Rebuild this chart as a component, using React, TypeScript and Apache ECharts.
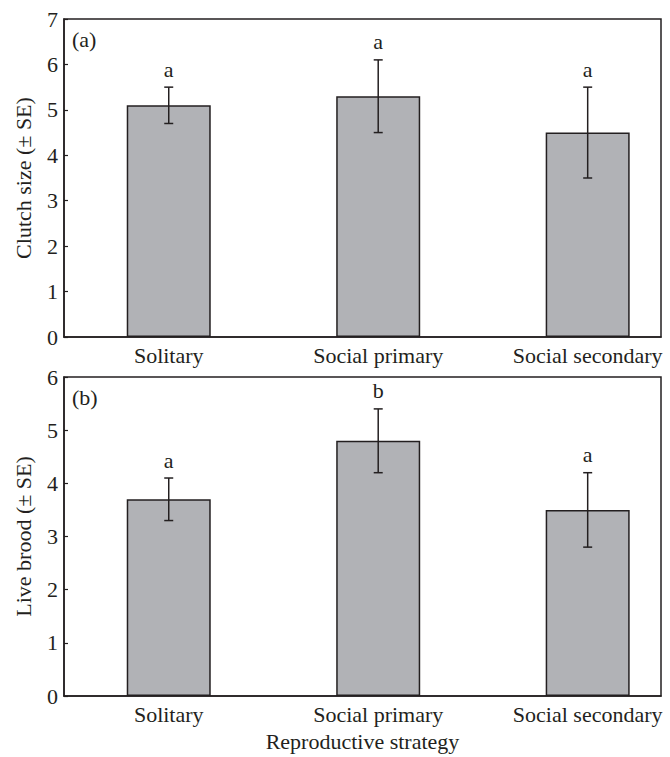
import React, { useEffect, useRef } from "react";
import * as echarts from "echarts";

const categories = ["Solitary", "Social primary", "Social secondary"];
const clutchMean = [5.1, 5.3, 4.5];
const clutchSE = [0.4, 0.8, 1.0];
const clutchLetters = ["a", "a", "a"];
const broodMean = [3.7, 4.8, 3.5];
const broodSE = [0.4, 0.6, 0.7];
const broodLetters = ["a", "b", "a"];
const clutchTicks = { min: 0, max: 7, interval: 1 };
const broodTicks = { min: 0, max: 6, interval: 1 };

const FONT = "'Liberation Serif', 'DejaVu Serif', serif";
const INK = "#231f20";
const FS = 22;

function categoriesLetter(seriesIndex: number, i: number) {
  return seriesIndex === 1 ? clutchLetters[i] : broodLetters[i];
}

function errRender(params: any, api: any) {
  const x = api.value(0);
  const m = api.value(1);
  const se = api.value(2);
  const letter = categoriesLetter(params.seriesIndex, params.dataIndex);
  const hi = api.coord([x, m + se]);
  const lo = api.coord([x, m - se]);
  const cap = 4.5;
  const st = { stroke: INK, lineWidth: 1.5 };
  return {
    type: "group",
    children: [
      { type: "line", shape: { x1: hi[0], y1: hi[1], x2: lo[0], y2: lo[1] }, style: st },
      { type: "line", shape: { x1: hi[0] - cap, y1: hi[1], x2: hi[0] + cap, y2: hi[1] }, style: st },
      { type: "line", shape: { x1: lo[0] - cap, y1: lo[1], x2: lo[0] + cap, y2: lo[1] }, style: st },
      {
        type: "text",
        style: {
          text: letter,
          x: hi[0],
          y: hi[1] - 7,
          align: "center",
          verticalAlign: "bottom",
          fontSize: FS,
          fontFamily: FONT,
          fill: INK,
        },
      },
    ],
  };
}

export default function App() {
  const ref = useRef<HTMLDivElement>(null);
  useEffect(() => {
    if (!ref.current) return;
    const chart = echarts.init(ref.current, undefined, { renderer: "svg" });
    const xPos = categories.map((_, i) => i + 1);
    const mkX = (gridIndex: number, withName: boolean) => ({
      type: "value",
      gridIndex,
      min: 0.5,
      max: 3.35,
      splitLine: { show: false },
      axisTick: { show: false },
      axisLine: { show: true, lineStyle: { color: INK, width: 1.5 } },
      axisLabel: {
        customValues: xPos,
        formatter: (v: number) => categories[Math.round(v) - 1] ?? "",
        fontSize: FS,
        fontFamily: FONT,
        color: INK,
        margin: 7,
      },
      name: withName ? "Reproductive strategy" : "",
      nameLocation: "middle",
      nameGap: 34,
      nameTextStyle: { fontSize: FS, fontFamily: FONT, color: INK },
    });
    const mkY = (gridIndex: number, ticks: any, name: string) => ({
      type: "value",
      gridIndex,
      min: ticks.min,
      max: ticks.max,
      interval: ticks.interval,
      splitLine: { show: false },
      axisTick: { show: true, inside: true, length: 4, lineStyle: { color: INK, width: 1.2 } },
      axisLine: { show: true, lineStyle: { color: INK, width: 1.5 } },
      axisLabel: { fontSize: FS, fontFamily: FONT, color: INK, margin: 6 },
      name,
      nameLocation: "middle",
      nameGap: 30,
      nameTextStyle: { fontSize: FS, fontFamily: FONT, color: INK },
    });
    const barStyle = { color: "#b1b2b6", borderColor: INK, borderWidth: 1.5 };
    chart.setOption({
      animation: false,
      grid: [
        { left: 64, top: 19, width: 597, height: 318, show: true, borderColor: INK, borderWidth: 1.5, backgroundColor: "transparent" },
        { left: 64, top: 377, width: 597, height: 319, show: true, borderColor: INK, borderWidth: 1.5, backgroundColor: "transparent" },
      ],
      xAxis: [mkX(0, false), mkX(1, true)],
      yAxis: [mkY(0, clutchTicks, "Clutch size (± SE)"), mkY(1, broodTicks, "Live brood (± SE)")],
      graphic: [
        { type: "text", left: 72, top: 28, style: { text: "(a)", fontSize: FS, fontFamily: FONT, fill: INK } },
        { type: "text", left: 72, top: 386, style: { text: "(b)", fontSize: FS, fontFamily: FONT, fill: INK } },
      ],
      series: [
        {
          type: "bar",
          xAxisIndex: 0,
          yAxisIndex: 0,
          barWidth: 84,
          itemStyle: barStyle,
          data: clutchMean.map((m, i) => [xPos[i], m]),
        },
        {
          type: "custom",
          xAxisIndex: 0,
          yAxisIndex: 0,
          renderItem: errRender,
          data: clutchMean.map((m, i) => [xPos[i], m, clutchSE[i]]),
          z: 5,
        },
        {
          type: "bar",
          xAxisIndex: 1,
          yAxisIndex: 1,
          barWidth: 84,
          itemStyle: barStyle,
          data: broodMean.map((m, i) => [xPos[i], m]),
        },
        {
          type: "custom",
          xAxisIndex: 1,
          yAxisIndex: 1,
          renderItem: errRender,
          data: broodMean.map((m, i) => [xPos[i], m, broodSE[i]]),
          z: 5,
        },
      ],
    });
    return () => chart.dispose();
  }, []);
  return (
    <div
      ref={ref}
      style={{ position: "fixed", left: 0, top: 0, width: 670, height: 757, background: "#fff" }}
    />
  );
}
